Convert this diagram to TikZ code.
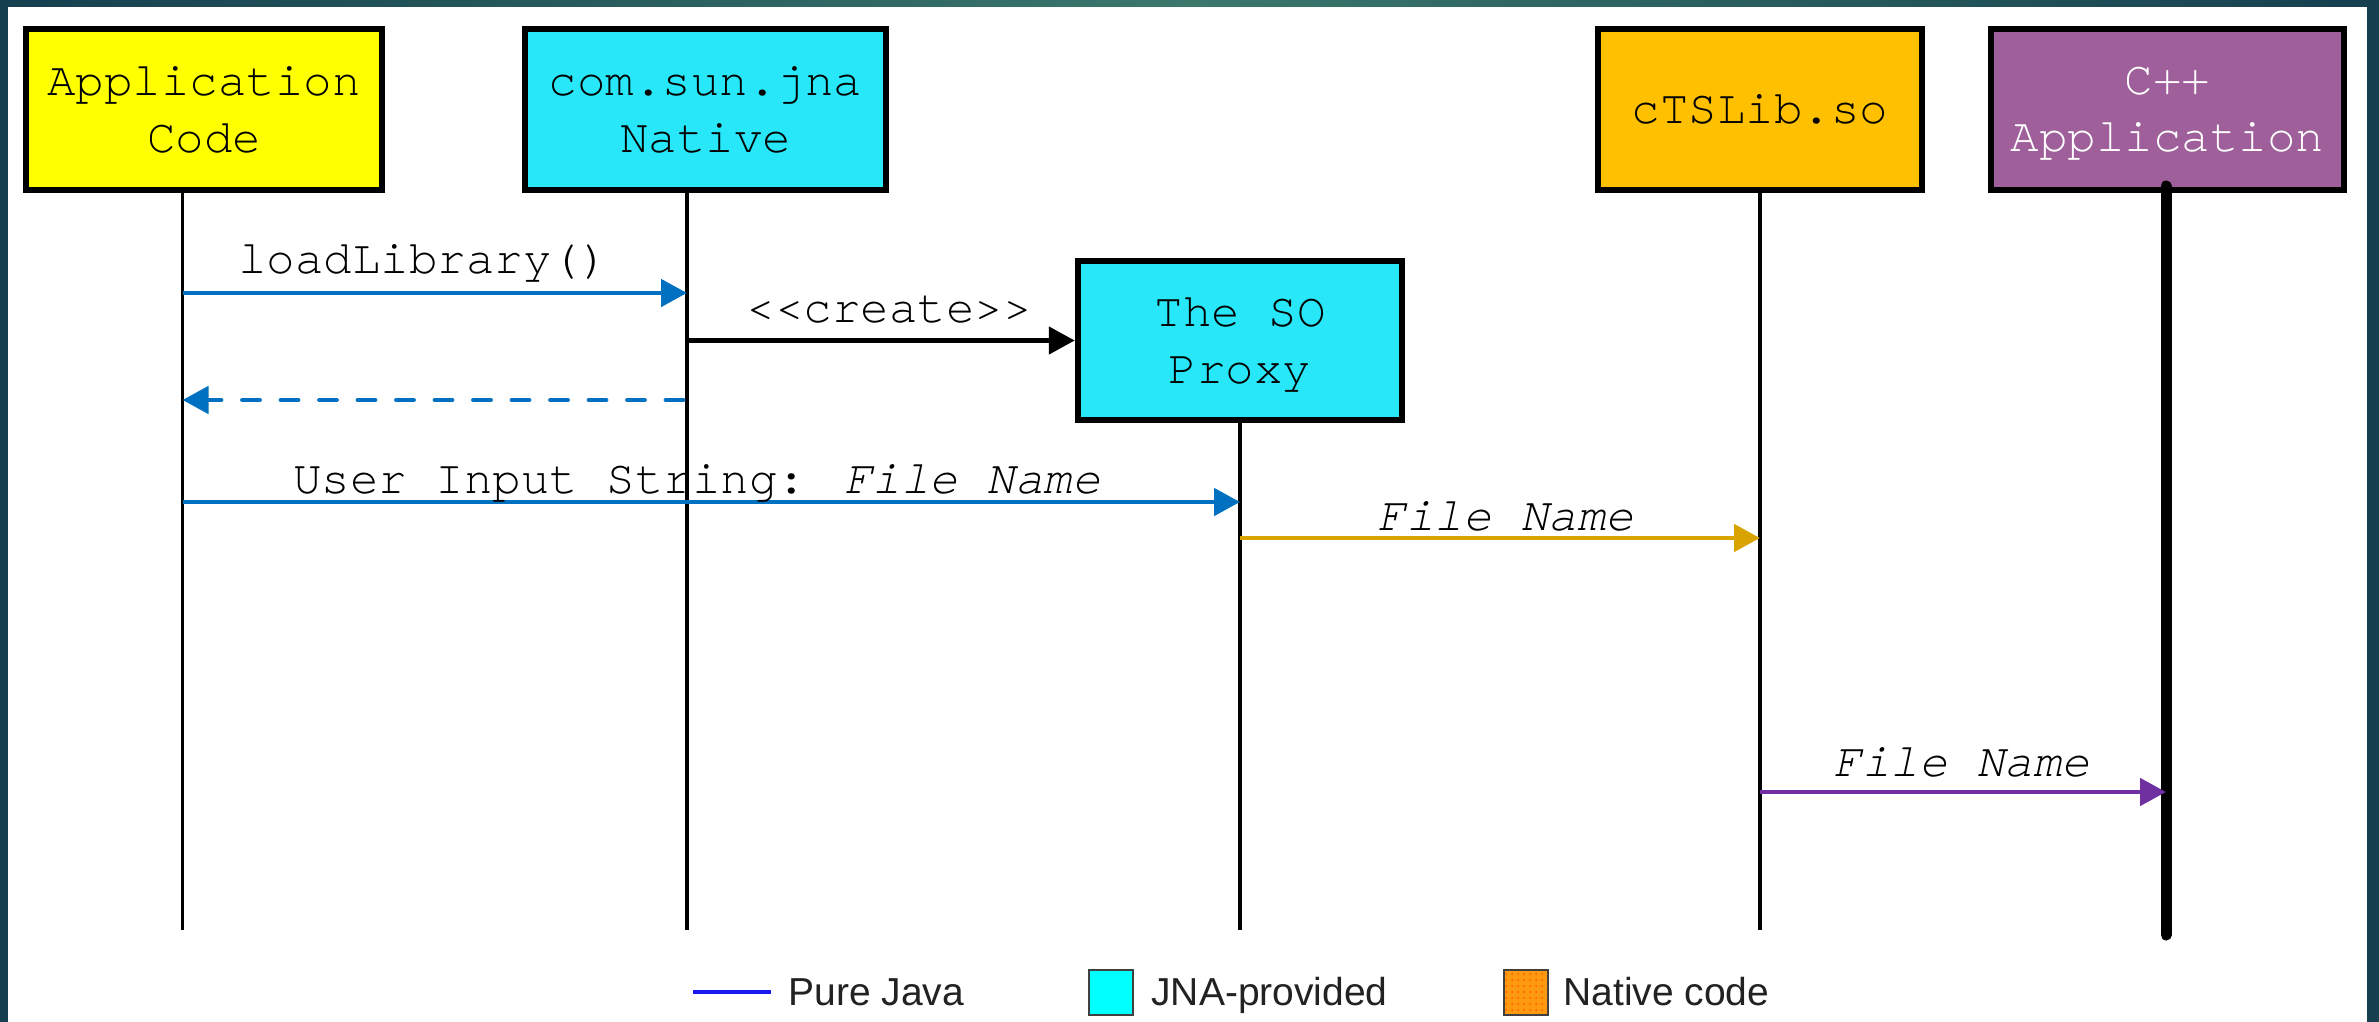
\documentclass[tikz,border=0pt]{standalone}
\usepackage{fontspec}
\setmainfont{Liberation Sans}
\newfontfamily\monofont{texgyrecursor}[Extension=.otf,UprightFont=*-regular,ItalicFont=*-italic,BoldFont=*-bold,BoldItalicFont=*-bolditalic]
\usetikzlibrary{arrows.meta,patterns}

\definecolor{bgDark}{HTML}{163F4F}
\definecolor{bgLight}{HTML}{3A786C}
\definecolor{cYellow}{HTML}{FFFF00}
\definecolor{cCyan}{HTML}{28E7F8}
\definecolor{cOrange}{HTML}{FFC000}
\definecolor{cPurple}{HTML}{9E5F9A}
\definecolor{cBlue}{HTML}{0070C0}
\definecolor{cGold}{HTML}{DAA400}
\definecolor{cViolet}{HTML}{7030A0}
\definecolor{legBlue}{HTML}{1A1AF0}
\definecolor{legCyan}{HTML}{00FFFF}
\definecolor{legOrange}{HTML}{FF9A10}
\definecolor{legText}{HTML}{222222}

\newcommand\boxfont{\monofont\fontsize{23.75}{28.5}\selectfont}
\newcommand\legfont{\fontsize{19.5}{23}\selectfont}

\begin{document}
\begin{tikzpicture}[x=0.5pt,y=-0.5pt,
  actor/.style={draw=black, line width=3pt, rectangle, inner sep=0pt,
    font=\boxfont, align=center, minimum height=80.5pt},
  life/.style={line width=1.6pt, black},
  msg/.style={line width=2.4pt, -{Triangle[length=13pt,width=13.5pt]}},
  lbl/.style={font=\boxfont, anchor=base, inner sep=0pt, text=black},
  legtxt/.style={font=\legfont, anchor=base west, inner sep=0pt, text=legText},
  legbox/.style={draw=black!75, line width=1pt, inner sep=0pt,
    minimum width=22pt, minimum height=22.5pt}
]
\useasboundingbox (0,0) rectangle (2379,1022);
% background frame
\shade[left color=bgDark, right color=bgDark, middle color=bgLight] (0,0) rectangle (2379,1022);
\fill[white] (8,7) rectangle (2367,1022);

% lifeline coordinates
\coordinate (appT) at (182.5,150); \coordinate (appB) at (182.5,930);
\coordinate (jnaT) at (687,150);   \coordinate (jnaB) at (687,930);
\coordinate (soT)  at (1240,380);  \coordinate (soB)  at (1240,930);
\coordinate (ctsT) at (1760,150);  \coordinate (ctsB) at (1760,930);
\coordinate (cppT) at (2166,186);  \coordinate (cppB) at (2166,935);

\draw[life] (appT) -- (appB);
\draw[life] (jnaT) -- (jnaB);
\draw[life] (soT) -- (soB);
\draw[life] (ctsT) -- (ctsB);

% actors
\node[actor, fill=cYellow, minimum width=178pt] (app) at (204,109.5) {Application\\Code};
\node[actor, fill=cCyan, minimum width=180.5pt] (jna) at (705.5,109.5) {com.sun.jna\\Native};
\node[actor, fill=cCyan, minimum width=162.25pt, minimum height=79.5pt] (so) at (1240,340.5) {The SO\\\smash{Proxy}};
\node[actor, fill=cOrange, minimum width=162pt] (cts) at (1760,109.5) {cTSLib.so};
\node[actor, fill=cPurple, minimum width=176.5pt, text=white] (cpp) at (2167.5,109.5) {C++\\\smash{Application}};

\draw[line width=5.5pt, black, line cap=round] (cppT) -- (cppB);

% messages
\coordinate (m1s) at (182.5,293); \coordinate (m1e) at (687,293);
\draw[msg, cBlue] (m1s) -- node[lbl, pos=0.478, yshift=10pt] {loadLibrary()} (m1e);

\coordinate (m2s) at (687,340.5);
\draw[msg, black] (m2s) -- node[lbl, pos=0.522, yshift=9.25pt] {\textless\textless create\textgreater\textgreater} (so.west);

\coordinate (m3s) at (683,400); \coordinate (m3e) at (182.5,400);
\draw[msg, cBlue, line cap=round, dash pattern=on 8.5pt off 10.75pt] (m3s) -- (m3e);

\coordinate (m4s) at (182.5,502); \coordinate (m4e) at (1240,502);
\draw[msg, cBlue] (m4s) -- node[lbl, pos=0.4865, yshift=4.5pt] {User Input String: \textit{File Name}} (m4e);

\coordinate (m5s) at (1240,538); \coordinate (m5e) at (1760,538);
\draw[msg, cGold] (m5s) -- node[lbl, pos=0.512, yshift=4pt] {\textit{File Name}} (m5e);

\coordinate (m6s) at (1760,792); \coordinate (m6e) at (2166,792);
\draw[msg, cViolet] (m6s) -- node[lbl, pos=0.4975, yshift=8pt] {\textit{File Name}} (m6e);

% legend
\coordinate (lg1a) at (693,992); \coordinate (lg1b) at (771,992);
\draw[line width=1.75pt, legBlue] (lg1a) -- (lg1b);
\node[legtxt] (lgt1) at (788,1005) {Pure Java};
\node[legbox, fill=legCyan] (lgb2) at (1111,992) {};
\node[legtxt] (lgt2) at (1151,1005) {JNA-provided};
\node[legbox, fill=legOrange, postaction={pattern=dots, pattern color=orange!70!red}] (lgb3) at (1525.5,992) {};
\node[legtxt] (lgt3) at (1563,1005) {Native code};
\end{tikzpicture}
\end{document}
